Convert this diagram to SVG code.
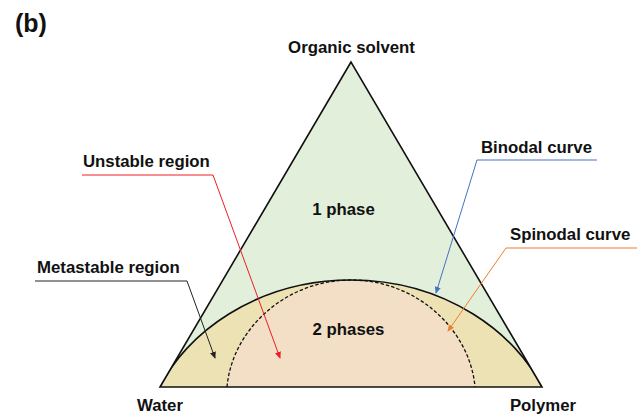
<svg xmlns="http://www.w3.org/2000/svg" width="641" height="414" viewBox="0 0 641 414">
<style>
text{font-family:"Liberation Sans",Arial,sans-serif;font-weight:bold;font-size:16.8px;fill:#111}
.lead{fill:none;stroke-width:1}
</style>
<defs>
<clipPath id="tri"><polygon points="351,62 160,387 542,387"/></clipPath>
<marker id="aR" viewBox="0 0 8 8" refX="7" refY="4" markerWidth="7" markerHeight="7" orient="auto" markerUnits="userSpaceOnUse"><path d="M0,0.5 L8,4 L0,7.5Z" fill="#ee1c25"/></marker>
<marker id="aK" viewBox="0 0 8 8" refX="7" refY="4" markerWidth="7" markerHeight="7" orient="auto" markerUnits="userSpaceOnUse"><path d="M0,0.5 L8,4 L0,7.5Z" fill="#222"/></marker>
<marker id="aB" viewBox="0 0 8 8" refX="7" refY="4" markerWidth="7" markerHeight="7" orient="auto" markerUnits="userSpaceOnUse"><path d="M0,0.5 L8,4 L0,7.5Z" fill="#4472c4"/></marker>
<marker id="aO" viewBox="0 0 8 8" refX="7" refY="4" markerWidth="7" markerHeight="7" orient="auto" markerUnits="userSpaceOnUse"><path d="M0,0.5 L8,4 L0,7.5Z" fill="#ed7d31"/></marker>
</defs>
<rect width="641" height="414" fill="#fff"/>
<text x="15" y="32" style="font-size:25px">(b)</text>
<g id="one-phase">
<polygon points="351,62 160,387 542,387" fill="#e2efda"/>
<text x="343.5" y="215" text-anchor="middle">1 phase</text>
</g>
<g id="metastable" clip-path="url(#tri)">
<path d="M160,387 C185,335 255,280 351,280 C447,280 517,335 542,387 Z" fill="#ece2b3"/>
</g>
<g id="two-phases">
<path d="M227,387 C232,330 285,280 351,280 C417,280 470,330 475,387 Z" fill="#f2dfc6"/>
<text x="348.5" y="335" text-anchor="middle">2 phases</text>
</g>
<g id="curves" fill="none" stroke="#111">
<path d="M160,387 C185,335 255,280 351,280 C447,280 517,335 542,387" stroke-width="1.6" clip-path="url(#tri)"/>
<path d="M227,387 C232,330 285,280 351,280 C417,280 470,330 475,387" stroke-width="1.3" stroke-dasharray="3.5,2"/>
<polygon points="351,62 160,387 542,387" stroke-width="1.6" stroke-linejoin="miter"/>
</g>
<g id="vertex-labels">
<text x="351.5" y="53" text-anchor="middle">Organic solvent</text>
<text x="160" y="411" text-anchor="middle">Water</text>
<text x="543" y="411" text-anchor="middle">Polymer</text>
</g>
<g id="labels">
<text x="83" y="167">Unstable region</text>
<text x="37" y="273">Metastable region</text>
<text x="481" y="153">Binodal curve</text>
<text x="510" y="240">Spinodal curve</text>
</g>
<g id="connectors">
<polyline class="lead" points="82,175 213,175 280,358" stroke="#ee1c25" marker-end="url(#aR)"/>
<polyline class="lead" points="35,281 187,281 215,358" stroke="#222" marker-end="url(#aK)"/>
<polyline class="lead" points="597,160 477,160 436,293" stroke="#4472c4" marker-end="url(#aB)"/>
<polyline class="lead" points="637,248 506,248 448,331" stroke="#ed7d31" marker-end="url(#aO)"/>
</g>
</svg>
